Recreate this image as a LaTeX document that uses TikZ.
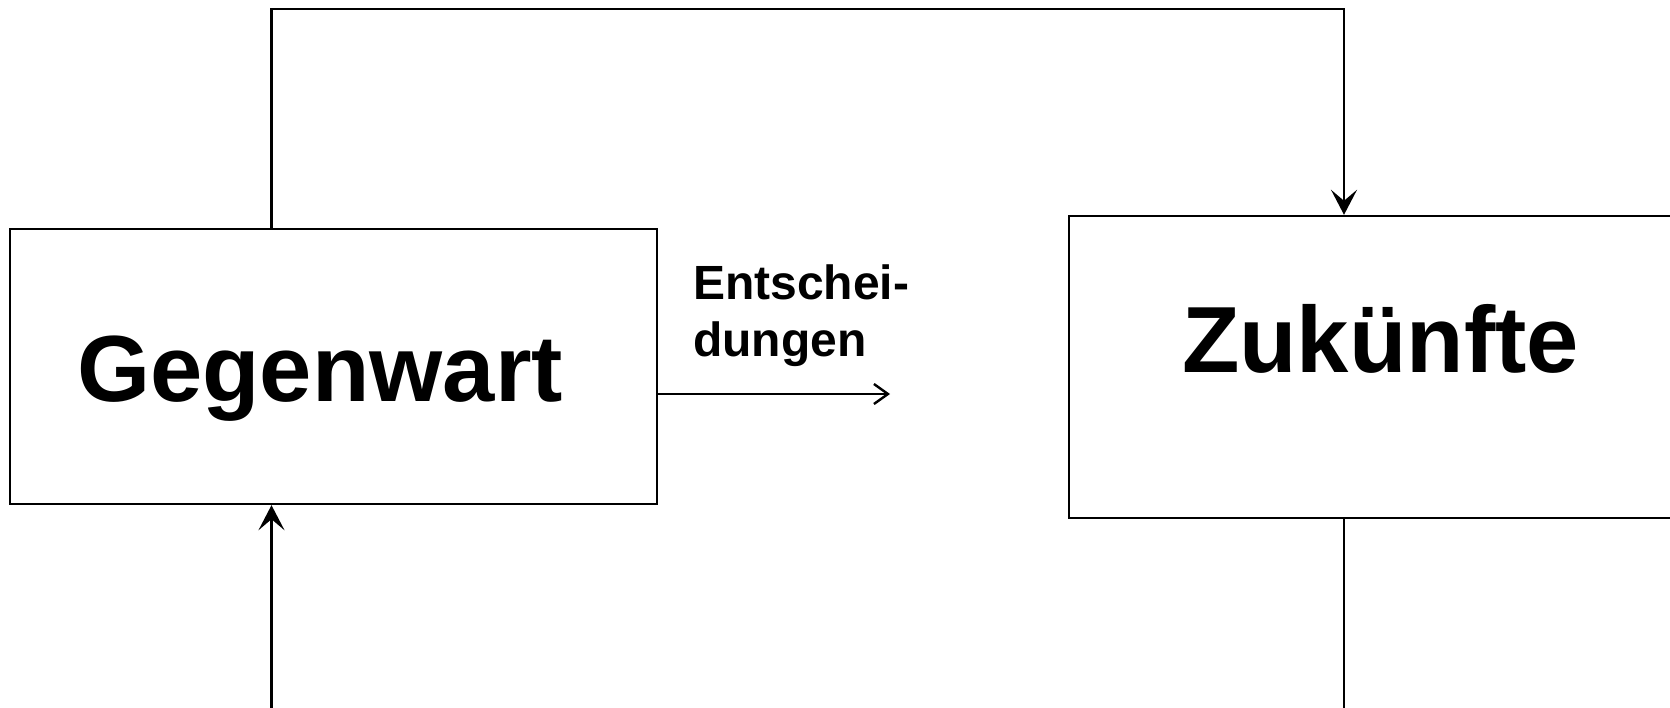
\documentclass[tikz,border=0pt]{standalone}
\usepackage{fontspec}
\setmainfont{Liberation Sans}
\usetikzlibrary{arrows.meta}
\begin{document}
\begin{tikzpicture}[x=1pt,y=-1pt,
  box/.style={draw,line width=2.4pt,rectangle,inner sep=0pt},
  bigtxt/.style={inner sep=0pt,anchor=base,font=\fontsize{94}{94}\selectfont\bfseries},
  smalltxt/.style={inner sep=0pt,anchor=base west,align=left,font=\fontsize{48}{57}\selectfont\bfseries},
  conn/.style={line width=2.4pt},
  bigtip/.style={-{Stealth[length=25pt,width=26pt,inset=11pt]}},
  opentip/.style={-{Straight Barb[length=14pt,width=20pt,line width=2.4pt]}}]
\fill[white] (0,0) rectangle (1670,708);
\clip (0,0) rectangle (1670,708);
\useasboundingbox (0,0) rectangle (1670,708);
% boxes
\node[box,minimum width=647pt,minimum height=275pt] (geg) at (333.3,366.5) {};
\node[box,minimum width=640pt,minimum height=302pt] (zuk) at (1389,367) {};
\node[bigtxt] (gegt) at (320,401) {Gegenwart};
\node[bigtxt] (zukt) at (1380.5,373) {Zukünfte};
% label (anchor base = baseline of last line)
\node[smalltxt] (ent) at (693,356) {Entschei-\\dungen};
% coordinates
\coordinate (tl) at (271.5,9);
\coordinate (tr) at (1344,9);
\coordinate (bl) at (271.5,708);
\coordinate (br) at (1344,708);
\coordinate (ae) at (890,394);
% connectors
\draw[conn,bigtip] (tl |- geg.north) -- (tl) -- (tr) -- (tr |- zuk.north);
\draw[conn,bigtip] (bl) -- (bl |- geg.south);
\draw[conn] (br |- zuk.south) -- (br);
\draw[conn,opentip] (geg.east |- ae) -- (ae);
\end{tikzpicture}
\end{document}
